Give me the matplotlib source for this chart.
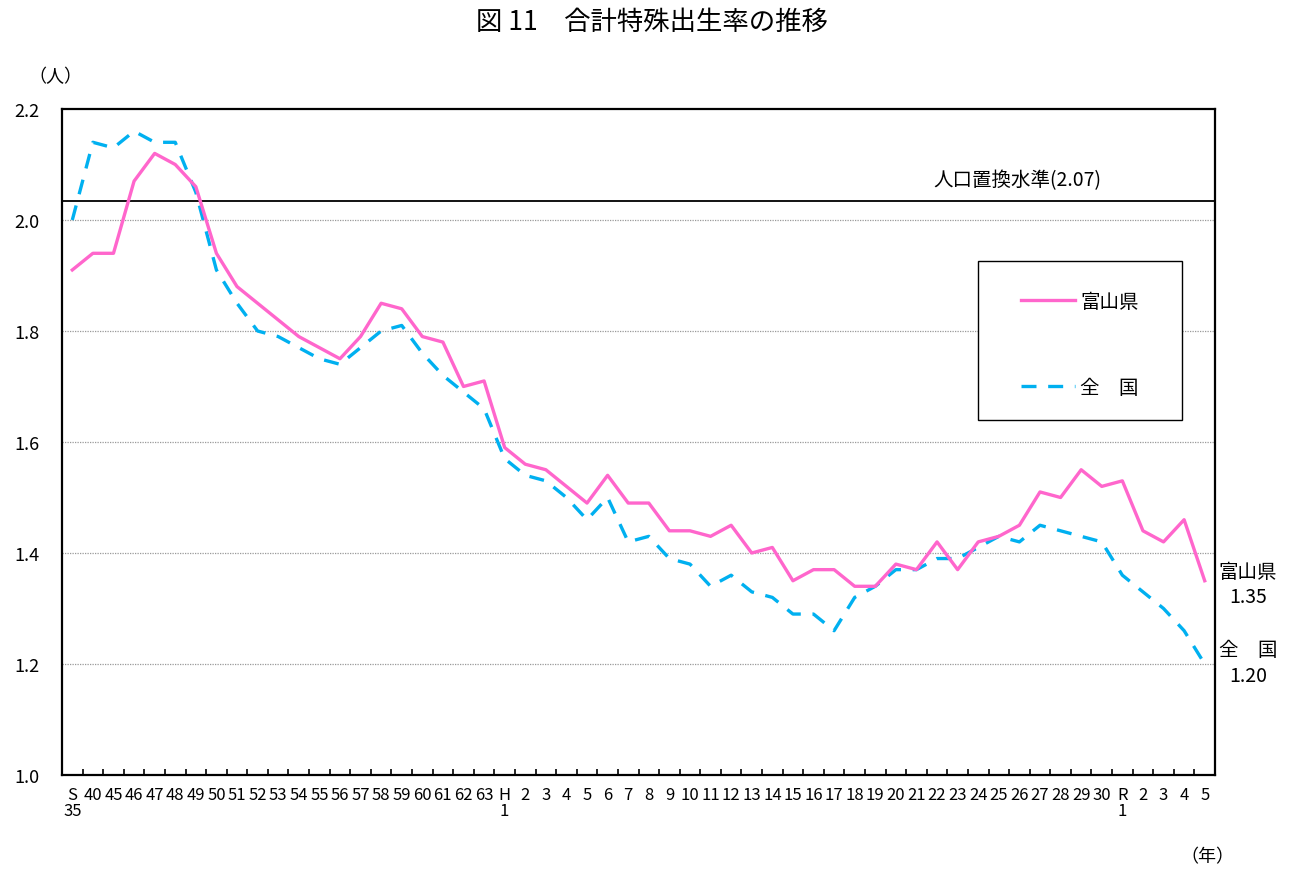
import matplotlib
matplotlib.use("Agg")
import matplotlib.pyplot as plt
from matplotlib.patches import Rectangle
from matplotlib.ticker import FixedLocator

plt.rcParams['font.family'] = ['Noto Sans CJK JP', 'DejaVu Sans']

# 年（昭和35年〜令和5年）
years = ["S\n35", "40", "45", "46", "47", "48", "49", "50", "51", "52", "53", "54",
         "55", "56", "57", "58", "59", "60", "61", "62", "63",
         "H\n1", "2", "3", "4", "5", "6", "7", "8", "9", "10", "11", "12", "13",
         "14", "15", "16", "17", "18", "19", "20", "21", "22", "23", "24", "25",
         "26", "27", "28", "29", "30",
         "R\n1", "2", "3", "4", "5"]

toyama = [1.91, 1.94, 1.94, 2.07, 2.12, 2.10, 2.06, 1.94, 1.88, 1.85, 1.82, 1.79,
          1.77, 1.75, 1.79, 1.85, 1.84, 1.79, 1.78, 1.70, 1.71,
          1.59, 1.56, 1.55, 1.52, 1.49, 1.54, 1.49, 1.49, 1.44, 1.44, 1.43, 1.45,
          1.40, 1.41, 1.35, 1.37, 1.37, 1.34, 1.34, 1.38, 1.37, 1.42, 1.37, 1.42,
          1.43, 1.45, 1.51, 1.50, 1.55, 1.52,
          1.53, 1.44, 1.42, 1.46, 1.35]

zenkoku = [2.00, 2.14, 2.13, 2.16, 2.14, 2.14, 2.05, 1.91, 1.85, 1.80, 1.79, 1.77,
           1.75, 1.74, 1.77, 1.80, 1.81, 1.76, 1.72, 1.69, 1.66,
           1.57, 1.54, 1.53, 1.50, 1.46, 1.50, 1.42, 1.43, 1.39, 1.38, 1.34, 1.36,
           1.33, 1.32, 1.29, 1.29, 1.26, 1.32, 1.34, 1.37, 1.37, 1.39, 1.39, 1.41,
           1.43, 1.42, 1.45, 1.44, 1.43, 1.42,
           1.36, 1.33, 1.30, 1.26, 1.20]

yticks = [1.0, 1.2, 1.4, 1.6, 1.8, 2.0, 2.2]
ytick_labels = ["1.0", "1.2", "1.4", "1.6", "1.8", "2.0", "2.2"]

# 人口置換水準の線（図上の位置）
replace_y = 2.035

PINK = '#FF66CC'
BLUE = '#00B0F0'

fig = plt.figure(figsize=(12.95, 8.7), dpi=100)
ax = fig.add_axes([62/1295, 1 - 776/870, 1153/1295, 666/870])

x = list(range(len(years)))
ax.plot(x, toyama, color=PINK, lw=2.4, label='富山県', zorder=4)
ax.plot(x, zenkoku, color=BLUE, lw=2.4, ls=(0, (4.5, 3.5)), label='全　国', zorder=3)

ax.axhline(replace_y, color='black', lw=1.3, zorder=2)
ax.text(41.8, 2.072, '人口置換水準(2.07)', fontsize=14, ha='left', va='center')

ax.set_xlim(-0.5, len(years) - 0.5)
ax.set_ylim(1.0, 2.2)

ax.set_xticks(x)
ax.set_xticklabels(years, fontsize=12, linespacing=0.95, va='top')
ax.xaxis.set_minor_locator(FixedLocator([i + 0.5 for i in range(len(years) - 1)]))
ax.tick_params(axis='x', which='major', length=0, pad=8)
ax.tick_params(axis='x', which='minor', direction='in', length=4, width=1.2)

ax.set_yticks(yticks)
ax.set_yticklabels(ytick_labels, fontsize=13)
ax.tick_params(axis='y', length=0, pad=16)

for yv in yticks[1:-1]:
    ax.axhline(yv, color='#999999', lw=0.9, ls=(0, (1, 1)), zorder=1)

for s in ax.spines.values():
    s.set_linewidth(1.6)
    s.set_color('black')

# 凡例の枠
ax.add_patch(Rectangle((0.7944, 0.5330), 0.1769, 0.2387, transform=ax.transAxes,
                       facecolor='white', edgecolor='black', lw=1.0, zorder=5))
leg = ax.legend(loc='upper left', bbox_to_anchor=(0.8317, 0.7267), borderaxespad=0,
                fontsize=14, handlelength=2.8, handletextpad=0.25, labelspacing=3.35,
                borderpad=0, frameon=False)
leg.set_zorder(6)

# 右端ラベル
ax.text(57.1, 1.366, '富山県', fontsize=14, ha='center', va='center', clip_on=False)
ax.text(57.1, 1.321, '1.35', fontsize=14, ha='center', va='center', clip_on=False)
ax.text(57.1, 1.227, '全　国', fontsize=14, ha='center', va='center', clip_on=False)
ax.text(57.1, 1.180, '1.20', fontsize=14, ha='center', va='center', clip_on=False)

fig.text(55/1295, 1 - 77/870, '（人）', fontsize=13, ha='center', va='center')
fig.text(1207/1295, 1 - 857/870, '（年）', fontsize=13, ha='center', va='center')
fig.text(652/1295, 1 - 22/870, '図 11　合計特殊出生率の推移', fontsize=19,
         ha='center', va='center')

fig.savefig('out.png', dpi=100)
